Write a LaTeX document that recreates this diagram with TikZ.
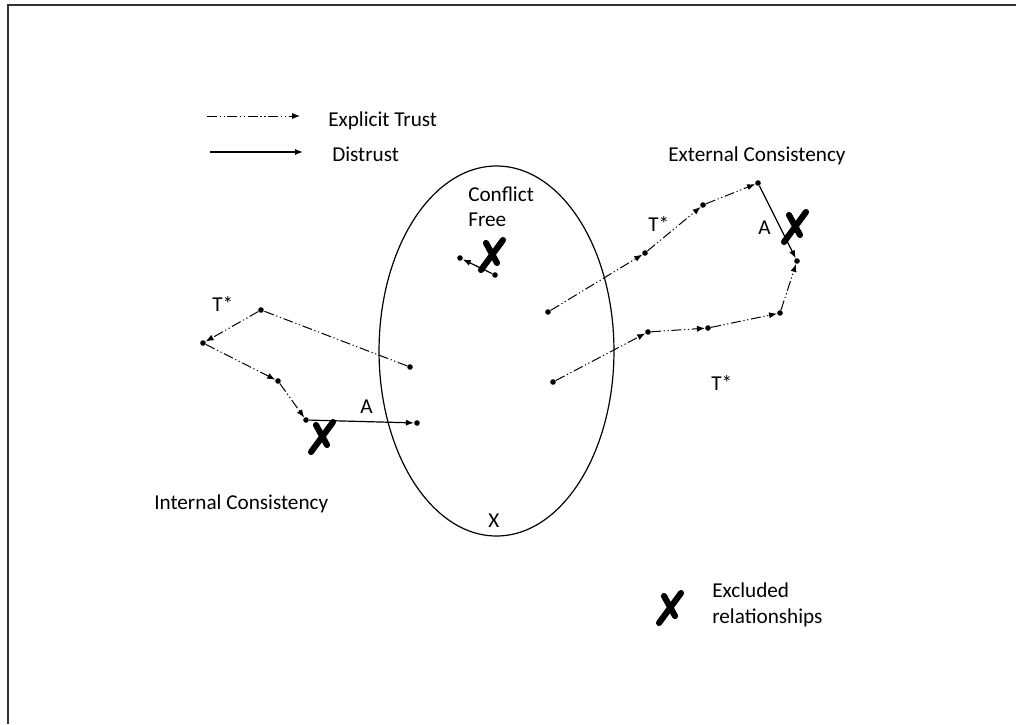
\documentclass[tikz,border=0pt]{standalone}
\usepackage{fontspec}
\setmainfont{Carlito}
\usetikzlibrary{arrows.meta}
\begin{document}
\begin{tikzpicture}[x=0.75pt,y=-0.75pt,
  txt/.style={font=\fontsize{15.9}{19}\selectfont,anchor=base west,inner sep=0pt},
  dot/.style={circle,fill=black,inner sep=0pt,minimum size=4.2pt},
  trust/.style={line width=0.75pt,dash pattern=on 7.5pt off 2pt on 0.9pt off 2pt on 0.9pt off 2pt,
    -{Latex[length=6pt,width=4.6pt]}},
  distrust/.style={line width=0.9pt,-{Latex[length=6pt,width=4.6pt]}},
  xstroke/.style={line width=4.6pt,line cap=round},
  nomark/.pic={\draw[xstroke] (11,-15) -- (-11,15); \draw[xstroke] (-6,-12) -- (5,8);}
]
\useasboundingbox (0,0) rectangle (1016,724);
% page frame
\draw[line width=1.6pt,black!80] (8,724) -- (8,5) -- (1016,5);

% legend
\coordinate (et1) at (207,116); \coordinate (et2) at (300,116);
\coordinate (dt1) at (210,152); \coordinate (dt2) at (303,152);
\draw[trust] (et1) -- (et2);
\draw[distrust] (dt1) -- (dt2);
\node[txt] (tet) at (328,126) {Explicit Trust};
\node[txt] (tdt) at (332,161) {Distrust};

% the conflict-free set
\draw[line width=0.9pt] (496.5,351) ellipse [x radius=88.1pt, y radius=138.75pt];
\node[txt] (tcf1) at (468,201) {Conflict};
\node[txt] (tcf2) at (468,226) {Free};
\node[txt] (tx) at (488,527) {X};

% conflict-free: excluded distrust
\node[dot] (q) at (495,275) {};
\node[dot] (r) at (460,258) {};
\draw[distrust] (q) -- (r);
\pic at (492,255) {nomark};

% internal consistency
\node[dot] (a) at (203,343) {};
\node[dot] (b) at (261,310) {};
\node[dot] (c) at (410,367) {};
\node[dot] (d) at (278,381) {};
\node[dot] (e) at (306,420) {};
\node[dot] (f) at (417,423) {};
\draw[trust,-] (c) -- (b);
\draw[trust] (b) -- (a);
\draw[trust] (a) -- (d);
\draw[trust] (d) -- (e);
\draw[distrust] (e) -- (f);
\pic at (322,437) {nomark};
\node[txt] (tts1) at (212,311) {T*};
\node[txt] (ta1) at (360,413) {A};
\node[txt] (tic) at (154,509) {Internal Consistency};

% external consistency
\node[dot] (g) at (548,312) {};
\node[dot] (h) at (645,253) {};
\node[dot] (i) at (703,205) {};
\node[dot] (j) at (758,183) {};
\node[dot] (k) at (797,261) {};
\node[dot] (n) at (553,382) {};
\node[dot] (o) at (648,332) {};
\node[dot] (p) at (708,328) {};
\node[dot] (l) at (780,313) {};
\draw[trust] (g) -- (h);
\draw[trust] (h) -- (i);
\draw[trust] (i) -- (j);
\draw[distrust] (j) -- (k);
\draw[trust] (n) -- (o);
\draw[trust] (o) -- (p);
\draw[trust] (p) -- (l);
\draw[trust] (l) -- (k);
\pic at (795,227) {nomark};
\node[txt] (tts2) at (648,231) {T*};
\node[txt] (ta2) at (758,234) {A};
\node[txt] (tts3) at (711,390) {T*};
\node[txt] (tec) at (668,161) {External Consistency};

% legend for excluded relationships
\pic at (670,608) {nomark};
\node[txt] (tex1) at (712,597) {Excluded};
\node[txt] (tex2) at (712,623) {relationships};
\end{tikzpicture}
\end{document}
